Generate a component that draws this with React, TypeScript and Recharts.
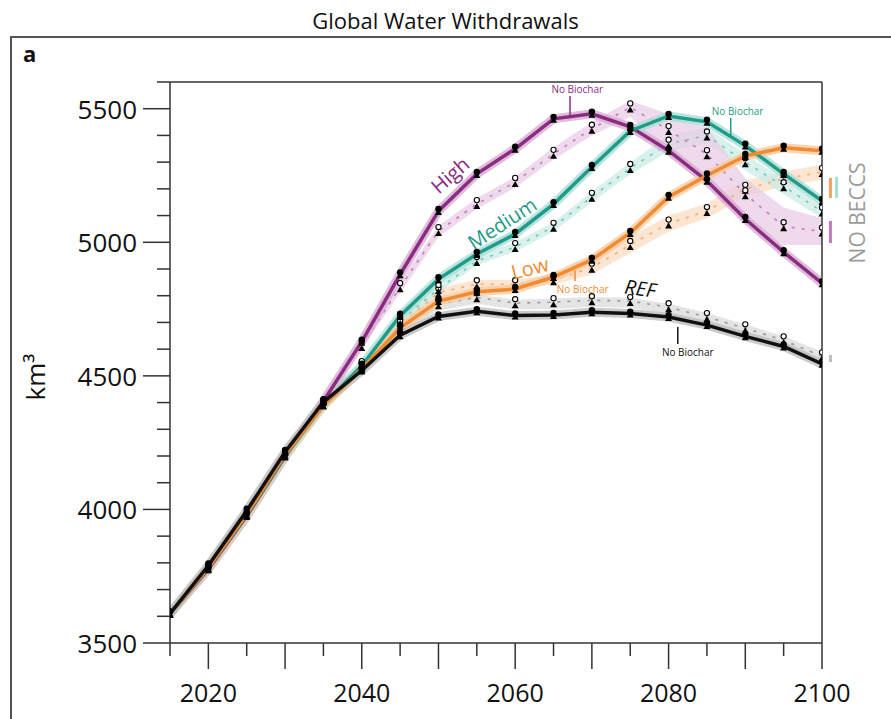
import {
  Area,
  ComposedChart,
  Line,
  ReferenceDot,
  ReferenceLine,
  XAxis,
  YAxis,
} from "recharts";

// years on the x axis (every 5 years)
const years = [2015, 2020, 2025, 2030, 2035, 2040, 2045, 2050, 2055, 2060, 2065, 2070, 2075, 2080, 2085, 2090, 2095, 2100];

// main scenarios, km3
const refValues = [3610, 3790, 3995, 4215, 4402, 4520, 4652, 4722, 4742, 4726, 4728, 4738, 4733, 4720, 4690, 4648, 4610, 4545];
const lowValues = [3610, 3782, 3982, 4205, 4390, 4525, 4680, 4780, 4815, 4825, 4870, 4935, 5035, 5170, 5250, 5323, 5354, 5343];
const mediumValues = [3610, 3780, 3978, 4200, 4390, 4538, 4725, 4862, 4956, 5031, 5143, 5282, 5417, 5473, 5451, 5362, 5256, 5155];
const highValues = [3610, 3776, 3975, 4198, 4405, 4628, 4880, 5117, 5256, 5350, 5462, 5481, 5432, 5343, 5230, 5087, 4963, 4847];

// "No Biochar" variants (from 2040)
const refNoBiochar = [null, null, null, null, null, 4532, 4680, 4768, 4794, 4772, 4776, 4783, 4780, 4757, 4720, 4678, 4633, 4573];
const lowNoBiochar = [null, null, null, null, null, 4535, 4692, 4812, 4843, 4843, 4858, 4905, 4990, 5070, 5117, 5200, 5237, 5263];
const mediumNoBiochar = [null, null, null, null, null, 4540, 4705, 4825, 4930, 4982, 5058, 5170, 5278, 5369, 5400, 5300, 5210, 5115];
const highNoBiochar = [null, null, null, null, null, 4612, 4832, 5042, 5143, 5226, 5331, 5425, 5505, 5420, 5330, 5180, 5060, 5040];

// spread of the "No Biochar" variants
const refBandLow = [null, null, null, null, null, 4520, 4660, 4745, 4770, 4748, 4750, 4758, 4755, 4733, 4697, 4655, 4612, 4552];
const refBandHigh = [null, null, null, null, null, 4542, 4692, 4782, 4805, 4785, 4790, 4795, 4792, 4770, 4735, 4692, 4648, 4590];
const lowBandLow = [null, null, null, null, null, 4525, 4675, 4795, 4825, 4828, 4840, 4880, 4960, 5040, 5090, 5170, 5210, 5235];
const lowBandHigh = [null, null, null, null, null, 4545, 4705, 4828, 4860, 4860, 4880, 4930, 5020, 5100, 5145, 5230, 5265, 5290];
const mediumBandLow = [null, null, null, null, null, 4530, 4690, 4810, 4915, 4965, 5040, 5150, 5255, 5340, 5370, 5270, 5180, 5090];
const mediumBandHigh = [null, null, null, null, null, 4552, 4718, 4842, 4950, 5000, 5075, 5190, 5300, 5400, 5430, 5330, 5235, 5140];
const highBandLow = [null, null, null, null, null, 4600, 4810, 5020, 5125, 5205, 5310, 5400, 5470, 5330, 5250, 5090, 4990, 4990];
const highBandHigh = [null, null, null, null, null, 4625, 4852, 5062, 5165, 5245, 5355, 5450, 5530, 5480, 5430, 5240, 5130, 5090];

const xTicks = [2015, 2020, 2025, 2030, 2035, 2040, 2045, 2050, 2055, 2060, 2065, 2070, 2075, 2080, 2085, 2090, 2095, 2100];
const xLabels = [2020, 2040, 2060, 2080, 2100];
const yTicks = [3500, 3600, 3700, 3800, 3900, 4000, 4100, 4200, 4300, 4400, 4500, 4600, 4700, 4800, 4900, 5000, 5100, 5200, 5300, 5400, 5500, 5600];
const yLabels = [3500, 4000, 4500, 5000, 5500];

const band = (lo: (number | null)[], hi: (number | null)[], i: number) =>
  lo[i] == null ? null : [lo[i], hi[i]];

const rows = years.map((year, i) => ({
  year,
  ref: refValues[i],
  low: lowValues[i],
  medium: mediumValues[i],
  high: highValues[i],
  refNB: refNoBiochar[i],
  lowNB: lowNoBiochar[i],
  mediumNB: mediumNoBiochar[i],
  highNB: highNoBiochar[i],
  refBand: band(refBandLow, refBandHigh, i),
  lowBand: band(lowBandLow, lowBandHigh, i),
  mediumBand: band(mediumBandLow, mediumBandHigh, i),
  highBand: band(highBandLow, highBandHigh, i),
}));

const FONT = "'Open Sans', sans-serif";
const AXIS = "#333";

const colors = {
  ref: { main: "#111111", halo: "#bdbdbd", dash: "#9a9a9a", band: "#d9d9d9" },
  low: { main: "#f08b32", halo: "#f8c99c", dash: "#f2ac70", band: "#fbdcc0" },
  medium: { main: "#1f9b89", halo: "#a9ddd4", dash: "#74c5b8", band: "#c9ebe5" },
  high: { main: "#8b2c82", halo: "#d7abd1", dash: "#c07db7", band: "#e8c9e4" },
};

function XTick({ x, y, payload }: any) {
  const v = payload.value;
  const long = v % 10 === 0;
  return (
    <g>
      <line x1={x} x2={x} y1={y} y2={y + (long ? 26 : 13)} stroke={AXIS} strokeWidth={1.5} />
      {xLabels.includes(v) && (
        <text x={x} y={y + 49} textAnchor="middle" dominantBaseline="central" fontSize={25} fontFamily={FONT} fill="#111">
          {v}
        </text>
      )}
    </g>
  );
}

function YTick({ x, y, payload }: any) {
  const v = payload.value;
  const major = yLabels.includes(v);
  return (
    <g>
      <line x1={x - (major ? 27 : 13)} x2={x} y1={y} y2={y} stroke={AXIS} strokeWidth={1.5} />
      {major && (
        <text x={x - 33} y={y} textAnchor="end" dominantBaseline="central" fontSize={26} fontFamily={FONT} fill="#111">
          {v}
        </text>
      )}
    </g>
  );
}

// filled circle over filled triangle, like the stacked model markers
function MainDot({ cx, cy }: any) {
  if (cx == null || cy == null) return null;
  return (
    <g>
      <path d={`M${cx - 3.5},${cy + 4} L${cx + 3.5},${cy + 4} L${cx},${cy - 2} Z`} fill="#000" />
      <circle cx={cx} cy={cy - 2} r={3.2} fill="#000" />
    </g>
  );
}

function NoBiocharDot({ cx, cy }: any) {
  if (cx == null || cy == null) return null;
  return (
    <g>
      <circle cx={cx} cy={cy - 4} r={2.6} fill="#fff" stroke="#000" strokeWidth={1.1} />
      <path d={`M${cx - 3.5},${cy + 5} L${cx + 3.5},${cy + 5} L${cx},${cy - 1} Z`} fill="#000" />
    </g>
  );
}

function textShape(label: string, color: string, size: number, angle: number, italic = false) {
  return (p: any) => (
    <text
      x={p.cx}
      y={p.cy}
      textAnchor="middle"
      dominantBaseline="central"
      fontSize={size}
      fontFamily={FONT}
      fontStyle={italic ? "italic" : "normal"}
      fill={color}
      transform={`rotate(${angle} ${p.cx} ${p.cy})`}
    >
      {label}
    </text>
  );
}

export default function App() {
  return (
    <div style={{ position: "absolute", left: 0, top: 0, width: 891, height: 719, overflow: "hidden", background: "#fff", fontFamily: FONT }}>
      <div style={{ position: "absolute", left: 0, top: 5, width: 891, textAlign: "center", fontSize: 22, color: "#111" }}>
        Global Water Withdrawals
      </div>
      <div style={{ position: "absolute", left: 10, top: 36, width: 900, height: 700, border: "2px solid #555" }} />
      <div style={{ position: "absolute", left: 23, top: 38, fontSize: 22, fontWeight: 700, color: "#111" }}>a</div>
      <div style={{ position: "absolute", left: 35, top: 377, transform: "translate(-50%, -50%) rotate(-90deg)", fontSize: 26, color: "#111", whiteSpace: "nowrap" }}>
        km³
      </div>
      <div style={{ position: "absolute", left: 857, top: 213, transform: "translate(-50%, -50%) rotate(-90deg)", fontSize: 21, color: "#9b9b9b", whiteSpace: "nowrap" }}>
        NO BECCS
      </div>
      <div style={{ position: "absolute", left: 0, top: 0 }}>
        <ComposedChart width={891} height={719} data={rows} margin={{ top: 82, right: 69, bottom: 16, left: 20 }}>
          <XAxis
            dataKey="year"
            type="number"
            domain={[2015, 2100]}
            ticks={xTicks}
            interval={0}
            height={60}
            tickSize={0}
            tickMargin={0}
            tickLine={false}
            tick={<XTick />}
            axisLine={{ stroke: AXIS, strokeWidth: 1.5 }}
            allowDataOverflow
          />
          <YAxis
            type="number"
            domain={[3500, 5600]}
            ticks={yTicks}
            interval={0}
            width={150}
            tickSize={0}
            tickMargin={0}
            tickLine={false}
            tick={<YTick />}
            axisLine={{ stroke: AXIS, strokeWidth: 1.5 }}
            allowDataOverflow
          />
          <ReferenceLine y={5600} stroke={AXIS} strokeWidth={1.5} />
          <ReferenceLine x={2100} stroke={AXIS} strokeWidth={1.5} />

          <Area dataKey="refBand" stroke="none" fill={colors.ref.band} fillOpacity={0.7} isAnimationActive={false} />
          <Area dataKey="lowBand" stroke="none" fill={colors.low.band} fillOpacity={0.7} isAnimationActive={false} />
          <Area dataKey="mediumBand" stroke="none" fill={colors.medium.band} fillOpacity={0.7} isAnimationActive={false} />
          <Area dataKey="highBand" stroke="none" fill={colors.high.band} fillOpacity={0.7} isAnimationActive={false} />

          <Line dataKey="refNB" stroke={colors.ref.dash} strokeWidth={1.6} strokeDasharray="3 7" dot={<NoBiocharDot />} isAnimationActive={false} />
          <Line dataKey="lowNB" stroke={colors.low.dash} strokeWidth={1.6} strokeDasharray="3 7" dot={<NoBiocharDot />} isAnimationActive={false} />
          <Line dataKey="mediumNB" stroke={colors.medium.dash} strokeWidth={1.6} strokeDasharray="3 7" dot={<NoBiocharDot />} isAnimationActive={false} />
          <Line dataKey="highNB" stroke={colors.high.dash} strokeWidth={1.6} strokeDasharray="3 7" dot={<NoBiocharDot />} isAnimationActive={false} />

          <Line dataKey="high" stroke={colors.high.halo} strokeWidth={9} strokeOpacity={0.8} dot={false} isAnimationActive={false} />
          <Line dataKey="medium" stroke={colors.medium.halo} strokeWidth={9} strokeOpacity={0.8} dot={false} isAnimationActive={false} />
          <Line dataKey="low" stroke={colors.low.halo} strokeWidth={9} strokeOpacity={0.8} dot={false} isAnimationActive={false} />
          <Line dataKey="ref" stroke={colors.ref.halo} strokeWidth={9} strokeOpacity={0.8} dot={false} isAnimationActive={false} />

          <Line dataKey="high" stroke={colors.high.main} strokeWidth={3.5} dot={<MainDot />} isAnimationActive={false} />
          <Line dataKey="medium" stroke={colors.medium.main} strokeWidth={3.5} dot={<MainDot />} isAnimationActive={false} />
          <Line dataKey="low" stroke={colors.low.main} strokeWidth={3.5} dot={<MainDot />} isAnimationActive={false} />
          <Line dataKey="ref" stroke={colors.ref.main} strokeWidth={3.5} dot={<MainDot />} isAnimationActive={false} />

          {/* scenario labels */}
          <ReferenceDot x={2051.5} y={5252} r={0} ifOverflow="visible" shape={textShape("High", colors.high.main, 20, -41)} />
          <ReferenceDot x={2058.3} y={5072} r={0} ifOverflow="visible" shape={textShape("Medium", colors.medium.main, 20, -33)} />
          <ReferenceDot x={2061.9} y={4904} r={0} ifOverflow="visible" shape={textShape("Low", colors.low.main, 20, -14)} />
          <ReferenceDot x={2076.3} y={4828} r={0} ifOverflow="visible" shape={textShape("REF", "#111", 20, 8, true)} />

          {/* No Biochar callouts */}
          <ReferenceLine segment={[{ x: 2067.15, y: 5469 }, { x: 2067.15, y: 5548 }]} stroke={colors.high.main} strokeWidth={1.5} ifOverflow="visible" />
          <ReferenceDot x={2068.1} y={5572} r={0} ifOverflow="visible" shape={textShape("No Biochar", colors.high.main, 10, 0)} />
          <ReferenceLine segment={[{ x: 2088.1, y: 5394 }, { x: 2088.1, y: 5465 }]} stroke={colors.medium.main} strokeWidth={1.5} ifOverflow="visible" />
          <ReferenceDot x={2089.0} y={5491} r={0} ifOverflow="visible" shape={textShape("No Biochar", colors.medium.main, 10, 0)} />
          <ReferenceLine segment={[{ x: 2067.8, y: 4855 }, { x: 2067.8, y: 4896 }]} stroke={colors.low.main} strokeWidth={1.5} ifOverflow="visible" />
          <ReferenceDot x={2068.8} y={4825} r={0} ifOverflow="visible" shape={textShape("No Biochar", colors.low.main, 10, 0)} />
          <ReferenceLine segment={[{ x: 2081.2, y: 4619 }, { x: 2081.2, y: 4683 }]} stroke="#111" strokeWidth={1.5} ifOverflow="visible" />
          <ReferenceDot x={2082.5} y={4589} r={0} ifOverflow="visible" shape={textShape("No Biochar", "#111", 10, 0)} />

          {/* NO BECCS markers at the right edge */}
          <ReferenceLine segment={[{ x: 2101.1, y: 5166 }, { x: 2101.1, y: 5241 }]} stroke={colors.low.main} strokeWidth={3} strokeOpacity={0.8} ifOverflow="visible" />
          <ReferenceLine segment={[{ x: 2101.9, y: 5166 }, { x: 2101.9, y: 5245 }]} stroke={colors.medium.halo} strokeWidth={3} ifOverflow="visible" />
          <ReferenceLine segment={[{ x: 2101.1, y: 4997 }, { x: 2101.1, y: 5080 }]} stroke={colors.high.dash} strokeWidth={3} ifOverflow="visible" />
          <ReferenceLine segment={[{ x: 2101.1, y: 4552 }, { x: 2101.1, y: 4578 }]} stroke={colors.ref.halo} strokeWidth={3} ifOverflow="visible" />
        </ComposedChart>
      </div>
    </div>
  );
}
